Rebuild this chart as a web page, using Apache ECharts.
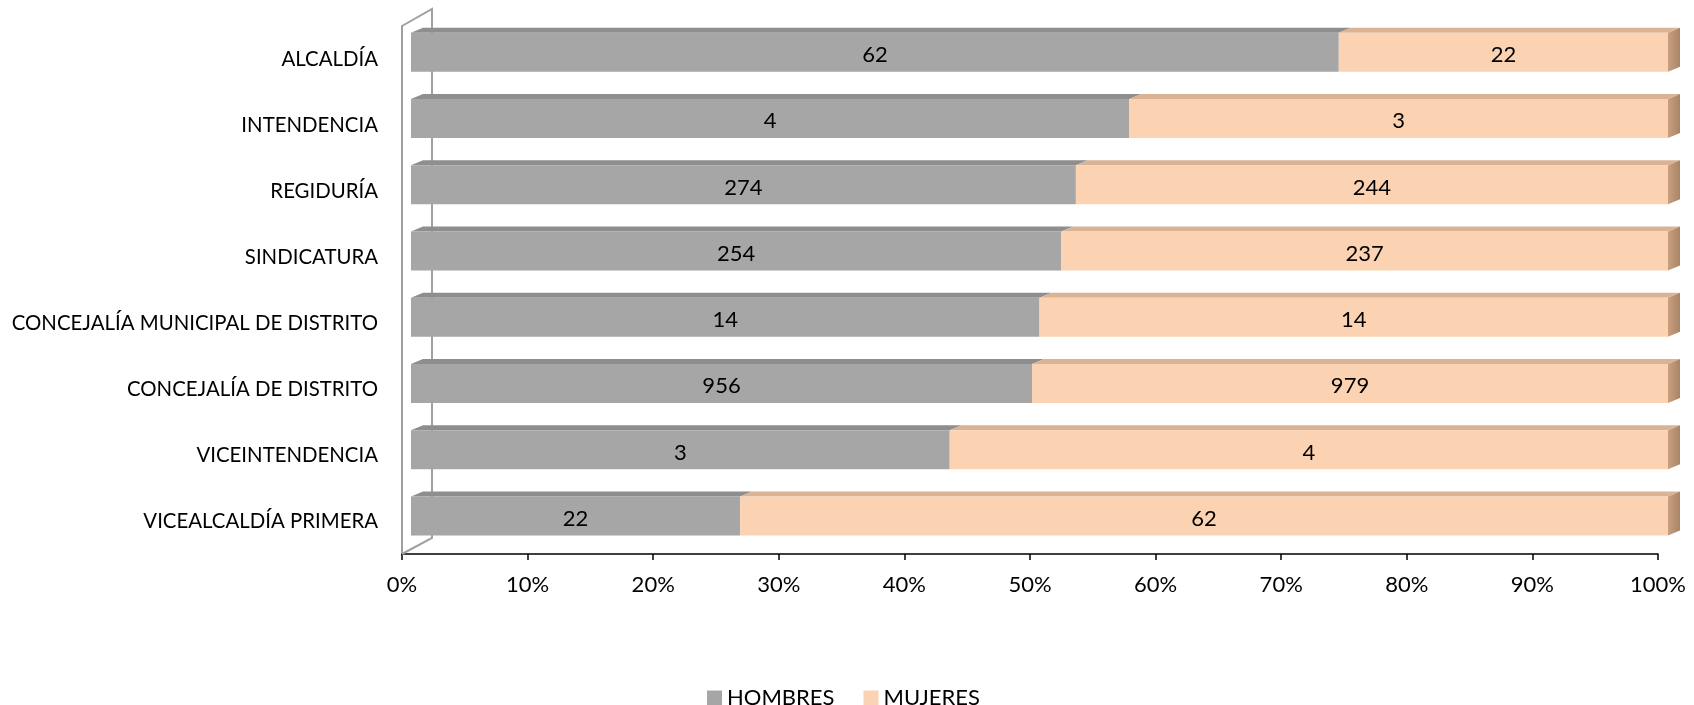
<!DOCTYPE html>
<html><head><meta charset="utf-8">
<script src="https://cdn.jsdelivr.net/npm/echarts@6/dist/echarts.min.js"></script>
<style>html,body{margin:0;padding:0;background:#fff}#c{width:1694px;height:705px}</style>
</head><body><div id="c"></div>
<script>
const categories = ['ALCALDÍA','INTENDENCIA','REGIDURÍA','SINDICATURA','CONCEJALÍA MUNICIPAL DE DISTRITO','CONCEJALÍA DE DISTRITO','VICEINTENDENCIA','VICEALCALDÍA PRIMERA'];
const hombres = [62, 4, 274, 254, 14, 956, 3, 22];
const mujeres = [22, 3, 244, 237, 14, 979, 4, 62];
const xTickStep = 10;
const xMin = 0, xMax = 100;

const hPct = hombres.map((h, i) => h / (h + mujeres[i]) * 100);
const mPct = mujeres.map((m, i) => m / (hombres[i] + m) * 100);

const FONT = 'Lato';
const GREY = '#a6a6a6', PEACH = '#fbd3b2';
const DX = 12, DY = -5, BAR_H = 39;

const chart = echarts.init(document.getElementById('c'), null, {renderer: 'canvas'});

function faces(params, api) {
  const i = api.value(1);
  const h = api.value(0);
  const p0 = api.coord([xMin, i]);
  const p1 = api.coord([h, i]);
  const p2 = api.coord([xMax, i]);
  const top = p0[1] - BAR_H / 2, bot = p0[1] + BAR_H / 2;
  const topFace = (xa, xb, col) => ({
    type: 'polygon',
    shape: {points: [[xa, top], [xb, top], [xb + DX, top + DY], [xa + DX, top + DY]]},
    style: {fill: col}
  });
  return {type: 'group', children: [
    topFace(p0[0], p1[0], '#8e8e8e'),
    topFace(p1[0], p2[0], '#d9b394'),
    {type: 'polygon', shape: {points: [[p2[0], top], [p2[0] + DX, top + DY], [p2[0] + DX, bot + DY], [p2[0], bot]]},
     style: {fill: new echarts.graphic.LinearGradient(0, 0, 1, 0, [{offset: 0, color: '#c9a080'}, {offset: 1, color: '#a88466'}])}}
  ]};
}

function wall(params, api) {
  const half = api.size([0, 1])[1] / 2;
  const a = api.coord([xMin, 0]);
  const b = api.coord([xMin, categories.length - 1]);
  const x = a[0], yT = a[1] - half, yB = b[1] + half;
  return {type: 'polyline', shape: {points: [[x, yT], [x + 30, yT - 17], [x + 30, yB - 16], [x, yB]]},
    style: {stroke: '#a0a0a0', lineWidth: 2, fill: null}, z2: 0};
}

const option = {
  animation: false,
  textStyle: {fontFamily: FONT},
  grid: [
    {left: 411, width: 1257, top: 19, height: 530, containLabel: false},
    {left: 402, width: 1256, top: 26, height: 528, containLabel: false}
  ],
  xAxis: [
    {gridIndex: 0, type: 'value', min: xMin, max: xMax, show: false},
    {gridIndex: 1, type: 'value', min: xMin, max: xMax, interval: xTickStep,
     axisLine: {show: true, lineStyle: {color: '#000', width: 1.5}},
     axisTick: {show: true, length: 6, lineStyle: {color: '#000', width: 1.5}},
     splitLine: {show: false},
     axisLabel: {formatter: v => v + '%', color: '#000', fontSize: 22, fontFamily: FONT, margin: 20}}
  ],
  yAxis: [
    {gridIndex: 0, type: 'category', data: categories, inverse: true, show: false},
    {gridIndex: 1, type: 'category', data: categories, inverse: true,
     axisLine: {show: true, lineStyle: {color: '#a0a0a0', width: 2}},
     axisTick: {show: false},
     axisLabel: {color: '#000', fontSize: 20.4, fontFamily: FONT, margin: 24}}
  ],
  legend: {
    left: 702, top: 682, icon: 'rect', itemWidth: 15, itemHeight: 15, itemGap: 29,
    textStyle: {fontSize: 22, color: '#000', fontFamily: FONT},
    data: ['HOMBRES', 'MUJERES']
  },
  series: [
    {type: 'custom', name: 'wall', xAxisIndex: 1, yAxisIndex: 1, renderItem: wall, data: [[0, 0]], z: 1, silent: true},
    {type: 'bar', name: 'HOMBRES', stack: 's', xAxisIndex: 0, yAxisIndex: 0, barWidth: BAR_H, data: hPct,
     itemStyle: {color: GREY}, z: 3,
     label: {show: true, position: 'inside', offset: [0, 3], color: '#000', fontSize: 22, fontFamily: FONT,
       formatter: p => String(hombres[p.dataIndex])}},
    {type: 'bar', name: 'MUJERES', stack: 's', xAxisIndex: 0, yAxisIndex: 0, barWidth: BAR_H, data: mPct,
     itemStyle: {color: PEACH}, z: 3,
     label: {show: true, position: 'inside', offset: [0, 3], color: '#000', fontSize: 22, fontFamily: FONT,
       formatter: p => String(mujeres[p.dataIndex])}},
    {type: 'custom', name: 'faces', xAxisIndex: 0, yAxisIndex: 0, renderItem: faces,
     data: hPct.map((h, i) => [h, i]), encode: {x: 0, y: 1}, z: 3, silent: true}
  ]
};
chart.setOption(option);
</script></body></html>
